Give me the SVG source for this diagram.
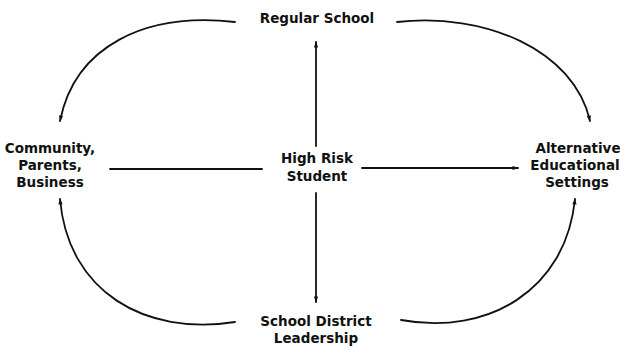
<svg xmlns="http://www.w3.org/2000/svg" width="620" height="347" viewBox="0 0 620 347">
<defs>
<style>
text{font-family:"DejaVu Sans","Liberation Sans",sans-serif;font-size:13.5px;font-weight:bold;fill:#111;text-anchor:middle}
.c{fill:none;stroke:#111;stroke-width:1.8;stroke-linecap:round}
</style>
<marker id="ah" viewBox="0 0 10 10" refX="9" refY="5" markerWidth="8" markerHeight="6" markerUnits="userSpaceOnUse" orient="auto">
<path d="M0,1.5 L10,5 L0,8.5 Z" fill="#111"/>
</marker>
</defs>
<rect width="620" height="347" fill="#fff"/>
<g id="connectors">
<path class="c" d="M235 22 C145 12 75 46 60 121" marker-end="url(#ah)"/>
<path class="c" d="M397 22 C485 12 574 50 590 121" marker-end="url(#ah)"/>
<path class="c" d="M235 322 C145 336 68 292 60 199" marker-end="url(#ah)"/>
<path class="c" d="M401 320 C488 336 566 290 575 199" marker-end="url(#ah)"/>
<path class="c" d="M316 146 L316 42" marker-end="url(#ah)"/>
<path class="c" d="M316 193 L316 302" marker-end="url(#ah)"/>
<path class="c" d="M110 169 L262 169"/>
<path class="c" d="M362 168 L518 168" marker-end="url(#ah)"/>
</g>
<g id="regular-school"><text x="317" y="23">Regular School</text></g>
<g id="high-risk-student"><text x="317" y="163">High Risk</text><text x="317" y="181">Student</text></g>
<g id="community"><text x="50" y="153">Community,</text><text x="50" y="170">Parents,</text><text x="50" y="187">Business</text></g>
<g id="alternative"><text x="578" y="153">Alternative</text><text x="575" y="170">Educational</text><text x="577" y="187">Settings</text></g>
<g id="school-district"><text x="316" y="326">School District</text><text x="316" y="343">Leadership</text></g>
</svg>
